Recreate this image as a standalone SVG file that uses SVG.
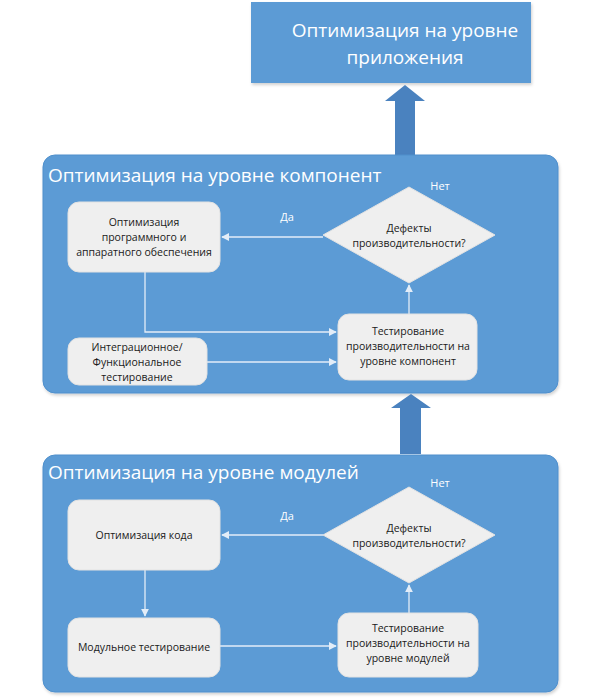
<svg xmlns="http://www.w3.org/2000/svg" width="600" height="700" viewBox="0 0 600 700">
<defs>
<style>
.panel{fill:#5b9bd5;stroke:#4f8fcc;stroke-width:1}
.node{fill:#efefef;stroke:#e2e2e2;stroke-width:1}
.big{fill:#4a82bf}
.t{font-family:"Open Sans","Liberation Sans",sans-serif;fill:#1a1a1a;font-size:10.5px;text-anchor:middle}
.title{font-family:"Open Sans","Liberation Sans",sans-serif;fill:#ffffff;font-size:19px}
.lbl{font-family:"Open Sans","Liberation Sans",sans-serif;fill:#ffffff;font-size:11px;text-anchor:middle}
.c{fill:none;stroke:#e3edf8;stroke-width:1.3}
</style>
<marker id="ah" viewBox="0 0 10 10" refX="9" refY="5" markerWidth="8" markerHeight="8" markerUnits="userSpaceOnUse" orient="auto">
<path d="M0,0 L10,5 L0,10 z" fill="#e3edf8"/>
</marker>
<filter id="sh" x="-5%" y="-5%" width="110%" height="115%">
<feDropShadow dx="1" dy="2" stdDeviation="1.5" flood-color="#000" flood-opacity="0.18"/>
</filter>
</defs>

<g id="app">
<rect x="251" y="2" width="280" height="81" fill="#5b9bd5" filter="url(#sh)"/>
<text class="title" x="405" y="37" text-anchor="middle" font-size="18.7">Оптимизация на уровне</text>
<text class="title" x="405" y="64" text-anchor="middle" font-size="18.7">приложения</text>
</g>

<g id="arrow-up-1">
<polygon class="big" points="405,85 425,101 415,101 415,156 395,156 395,101 385,101"/>
</g>

<g id="component-panel">
<rect class="panel" x="43" y="155" width="515" height="238" rx="12" filter="url(#sh)"/>
<text class="title" x="48" y="182" font-size="19.7">Оптимизация на уровне компонент</text>
</g>

<g id="arrow-up-2">
<polygon class="big" points="411,394 431,408 421,408 421,454 400,454 400,408 391,408"/>
</g>

<g id="module-panel">
<rect class="panel" x="43" y="455" width="515" height="237" rx="12" filter="url(#sh)"/>
<text class="title" x="48" y="479" font-size="19.5">Оптимизация на уровне модулей</text>
</g>

<g id="connectors">
<polyline class="c" points="323,237 300,237 222,237" marker-end="url(#ah)"/>
<polyline class="c" points="145,272 145,332 336,332" marker-end="url(#ah)"/>
<line class="c" x1="207" y1="362" x2="336" y2="362" marker-end="url(#ah)"/>
<line class="c" x1="409" y1="314" x2="409" y2="285" marker-end="url(#ah)"/>
<line class="c" x1="323" y1="535" x2="222" y2="535" marker-end="url(#ah)"/>
<line class="c" x1="145" y1="570" x2="145" y2="616" marker-end="url(#ah)"/>
<line class="c" x1="220" y1="646" x2="336" y2="646" marker-end="url(#ah)"/>
<line class="c" x1="409" y1="613" x2="409" y2="585" marker-end="url(#ah)"/>
<text class="lbl" x="287" y="221">Да</text>
<text class="lbl" x="440" y="190">Нет</text>
<text class="lbl" x="287" y="520">Да</text>
<text class="lbl" x="440" y="487">Нет</text>
</g>

<g id="c-opt">
<rect class="node" x="68" y="202" width="152" height="70" rx="11"/>
<text class="t" x="144" y="226">Оптимизация</text>
<text class="t" x="144" y="241">программного и</text>
<text class="t" x="144" y="256">аппаратного обеспечения</text>
</g>

<g id="c-integ">
<rect class="node" x="68" y="338" width="139" height="47" rx="11"/>
<text class="t" x="137" y="351">Интеграционное/</text>
<text class="t" x="137" y="366">Функциональное</text>
<text class="t" x="137" y="381">тестирование</text>
</g>

<g id="c-test">
<rect class="node" x="338" y="314" width="139" height="66" rx="11"/>
<text class="t" x="408" y="335">Тестирование</text>
<text class="t" x="408" y="350">производительности на</text>
<text class="t" x="408" y="365">уровне компонент</text>
</g>

<g id="c-dec">
<polygon class="node" points="409,187 495,235 409,283 323,235"/>
<text class="t" x="409" y="232">Дефекты</text>
<text class="t" x="409" y="247">производительности?</text>
</g>

<g id="m-opt">
<rect class="node" x="68" y="500" width="152" height="70" rx="11"/>
<text class="t" x="144" y="539">Оптимизация кода</text>
</g>

<g id="m-unit">
<rect class="node" x="68" y="618" width="152" height="59" rx="11"/>
<text class="t" x="144" y="651">Модульное тестирование</text>
</g>

<g id="m-test">
<rect class="node" x="338" y="613" width="140" height="64" rx="11"/>
<text class="t" x="408" y="632">Тестирование</text>
<text class="t" x="408" y="647">производительности на</text>
<text class="t" x="408" y="662">уровне модулей</text>
</g>

<g id="m-dec">
<polygon class="node" points="409,487 495,535 409,583 323,535"/>
<text class="t" x="409" y="532">Дефекты</text>
<text class="t" x="409" y="547">производительности?</text>
</g>
</svg>
